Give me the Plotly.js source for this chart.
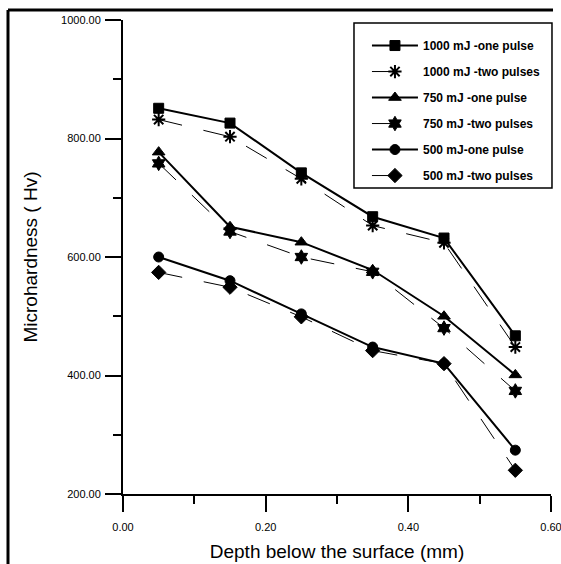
<!DOCTYPE html>
<html>
<head>
<meta charset="utf-8">
<script src="https://cdn.plot.ly/plotly-3.0.1.min.js"></script>
<style>html,body{margin:0;padding:0;background:#fff;}#chart{width:561px;height:564px;}</style>
</head>
<body>
<div id="chart"></div>
<script>
var depth = [0.05, 0.15, 0.25, 0.35, 0.45, 0.55];
var onePulse1000 = [851, 826, 742, 668, 632, 467];
var twoPulses1000 = [832, 803, 732, 653, 624, 448];
var onePulse750 = [777, 651, 625, 578, 500, 401];
var twoPulses750 = [758, 643, 600, 575, 480, 374];
var onePulse500 = [600, 560, 504, 448, 420, 274];
var twoPulses500 = [574, 549, 499, 442, 420, 240];
var seriesNames = ["1000 mJ -one pulse", "1000 mJ -two pulses", "750 mJ -one pulse",
                   "750 mJ -two pulses", "500 mJ-one pulse", "500 mJ -two pulses"];
var xTickVals = [0, 0.2, 0.4, 0.6];
var yTickVals = [200, 400, 600, 800, 1000];

var FONT = "Arial, 'Liberation Sans', sans-serif";
function oneTrace(y, name, sym, size, group) {
  return {x: depth, y: y, name: name, type: 'scatter', mode: 'lines+markers',
    legendgroup: group,
    line: {color: '#000', width: 2},
    marker: {symbol: sym, size: size, color: '#000', line: {color: '#000', width: 1}}};
}
function twoTrace(y, name, sym, size, group) {
  return {x: depth, y: y, name: name, type: 'scatter', mode: 'lines+markers',
    legendgroup: group,
    line: {color: '#000', width: 1, dash: '24px,22px'},
    marker: {symbol: sym, size: size, color: '#000', line: {color: '#000', width: sym === 'asterisk-open' ? 2 : 1}}};
}
var data = [
  oneTrace(onePulse1000, seriesNames[0], 'square', 10, 'a'),
  twoTrace(twoPulses1000, seriesNames[1], 'asterisk-open', 11, 'b'),
  oneTrace(onePulse750, seriesNames[2], 'triangle-up', 11, 'c'),
  twoTrace(twoPulses750, seriesNames[3], 'hexagram', 11, 'd'),
  oneTrace(onePulse500, seriesNames[4], 'circle', 10, 'e'),
  twoTrace(twoPulses500, seriesNames[5], 'diamond', 11, 'f')
];
var layout = {
  width: 561, height: 564,
  margin: {l: 123, r: 10, t: 20, b: 70},
  paper_bgcolor: '#fff', plot_bgcolor: '#fff',
  font: {family: FONT, color: '#000', size: 11},
  showlegend: true,
  legend: {x: 0.570, y: 0.9767, xanchor: 'left', yanchor: 'top',
    borderwidth: 0, bgcolor: 'rgba(0,0,0,0)', itemwidth: 46,
    font: {family: FONT, size: 12, color: '#000', weight: 'bold'},
    traceorder: 'grouped', tracegroupgap: 7},
  xaxis: {range: [0, 0.6], tickvals: xTickVals, tickformat: '.2f',
    showgrid: false, zeroline: false, showline: true, linecolor: '#000', linewidth: 2,
    ticks: 'outside', ticklen: 16, tickwidth: 2, tickcolor: '#000',
    ticklabeloverflow: 'allow', ticklabelstandoff: 6,
    minor: {dtick: 0.1, ticks: 'outside', ticklen: 8, tickwidth: 2, tickcolor: '#000', showgrid: false},
    tickfont: {family: FONT, size: 11}, fixedrange: true,
    title: {text: 'Depth below the surface (mm)', font: {family: FONT, size: 19}, standoff: 12}},
  yaxis: {range: [200, 1000], tickvals: yTickVals, tickformat: '.2f',
    showgrid: false, zeroline: false, showline: true, linecolor: '#000', linewidth: 2,
    ticks: 'outside', ticklen: 16, tickwidth: 2, tickcolor: '#000',
    ticklabelstandoff: 2,
    minor: {dtick: 100, ticks: 'outside', ticklen: 8, tickwidth: 2, tickcolor: '#000', showgrid: false},
    tickfont: {family: FONT, size: 11}, fixedrange: true,
    title: {text: 'Microhardness ( Hv)', font: {family: FONT, size: 19}, standoff: 18}},
  shapes: [
    {type: 'line', xref: 'paper', yref: 'paper', x0: -0.2687, x1: -0.2687, y0: 1.0211, y1: -0.16, line: {color: '#000', width: 3}},
    {type: 'line', xref: 'paper', yref: 'paper', x0: -0.2687, x1: 1.0047, y0: 1.0211, y1: 1.0211, line: {color: '#000', width: 3}},
    {type: 'rect', xref: 'paper', yref: 'paper', x0: 0.5397, x1: 1.0023, y0: 0.6456, y1: 0.9937, line: {color: '#000', width: 1.5}, layer: 'above'}
  ]
};
Plotly.newPlot('chart', data, layout, {displayModeBar: false, staticPlot: true});
</script>
</body>
</html>
